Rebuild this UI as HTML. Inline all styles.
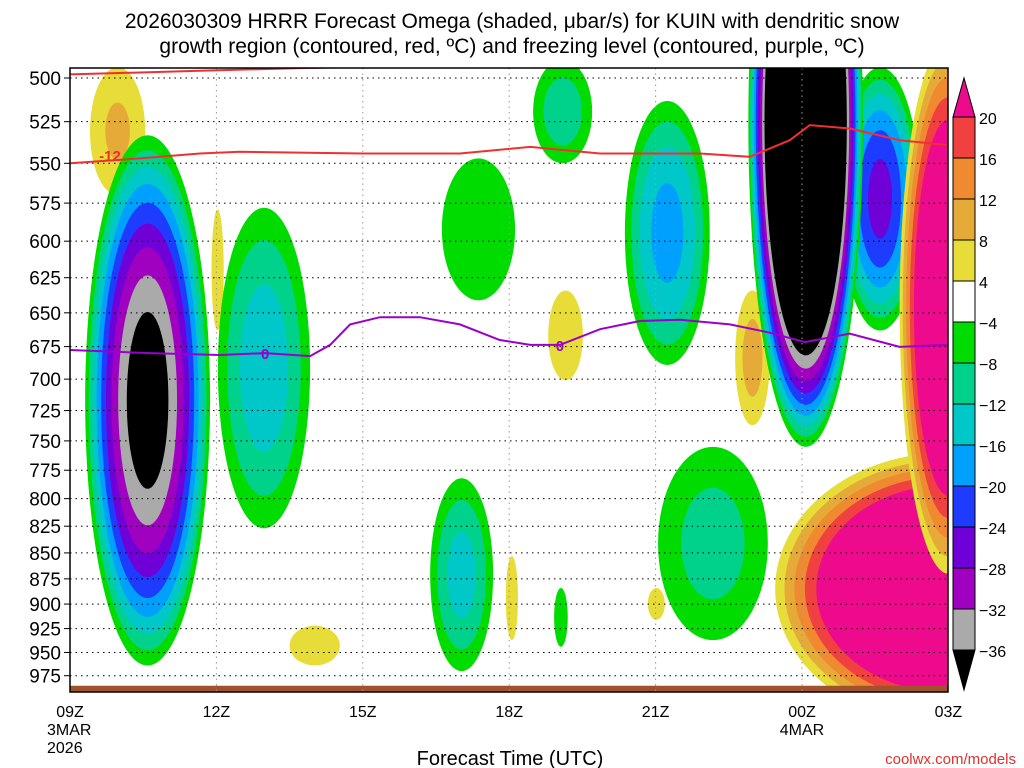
<!DOCTYPE html>
<html><head><meta charset="utf-8"><style>
body{margin:0;background:#fff;}
svg{display:block;font-family:"Liberation Sans",sans-serif;}
</style></head><body>
<svg id="chart" width="1024" height="768" viewBox="0 0 1024 768">
<text x="512" y="28" text-anchor="middle" font-size="21">2026030309 HRRR Forecast Omega (shaded, μbar/s) for KUIN with dendritic snow</text>
<text x="512" y="53" text-anchor="middle" font-size="21">growth region (contoured, red, ºC) and freezing level (contoured, purple, ºC)</text>
<defs><clipPath id="pc"><rect x="70" y="68" width="878" height="624"/></clipPath></defs>
<g id="fields" clip-path="url(#pc)"></g>
<g id="grid"></g>
<g id="lines" clip-path="url(#pc)"></g>
<rect x="70" y="68" width="878" height="624" fill="none" stroke="#000" stroke-width="1.5"/>
<g id="yaxis"></g>
<g id="xaxis"></g>
<g id="cbar"></g>
<text x="510" y="765" text-anchor="middle" font-size="20">Forecast Time (UTC)</text>
<text x="1016" y="764" text-anchor="end" font-size="15" fill="#e03030">coolwx.com/models</text>
</svg>
<script>
const pLevels=[500,525,550,575,600,625,650,675,700,725,750,775,800,825,850,875,900,925,950,975];
const tTicks=[9,12,15,18,21,24,27];
const tLabels=[["09Z","3MAR","2026"],["12Z"],["15Z"],["18Z"],["21Z"],["00Z","4MAR"],["03Z"]];
const negLevels=[-4,-8,-12,-16,-20,-24,-28,-32,-36];
const negColors=["#00dc00","#00d28c","#00c8c8","#00a0ff","#1e3cff","#7000d8","#a000c0","#aaaaaa","#000000"];
const posLevels=[4,8,12,16,20];
const posColors=["#e8dc38","#e6aa38","#f08a30","#f04040","#ee0a8c"];
const cbarLabels=["20","16","12","8","4","-4","-8","-12","-16","-20","-24","-28","-32","-36"];
// blobs: [tStart, tEnd, pTop, pBottom, peak]
const blobs=[
[9.41,10.54,494,570,9],
[11.9,12.15,579,663,6],
[13.5,14.53,922,964,6],
[9.31,11.87,533,964,-40],
[12.03,13.92,578,827,-15],
[16.62,18.12,547,641,-7],
[16.38,17.67,782,970,-14],
[18.49,19.7,490,550,-11],
[18.8,19.51,634,701,6],
[17.93,18.18,853,937,5],
[18.92,19.2,884,944,-6],
[20.84,21.19,884,916,5],
[20.37,22.11,513,689,-18],
[21.05,23.3,755,937,-10],
[22.63,23.34,634,737,10],
[24.78,26.42,494,663,-26],
[22.9,25.25,366,755,-70],
[23.45,30.5,760,1030,42],
[26.0,28.0,480,870,36]
];
const redT=[9,10.43,11.66,12.48,15,16.99,18.43,19.86,21.91,22.93,23.75,24.16,24.98,26,27];
const redP=[550,547,544,543,544,544,540,544,544,546,536,527,529,536,539];
const red2T=[9,11.66,13.7,16.8];
const red2P=[498,496,494.5,493];
const purT=[9,10.64,12.07,13,13.92,14.33,14.74,15.35,16.17,16.99,17.8,18.43,19.04,19.86,20.68,21.5,22.52,23.34,24.06,24.98,26,27];
const purP=[677.6,679.9,681.4,679.9,682.2,673.7,658.5,653.2,653.2,658.5,670,673.7,673.7,662,656,655,658.5,664.6,671.6,665.3,675.2,673.7];
const groundP=986;

(function(){
const NS="http://www.w3.org/2000/svg";
const X=t=>70+(t-9)*48.8;
const Y=p=>78+895*Math.log(p/500);
function mk(tag,attrs,parent){const e=document.createElementNS(NS,tag);for(const k in attrs)e.setAttribute(k,attrs[k]);parent.appendChild(e);return e;}
const F=document.getElementById('fields');
blobs.forEach(b=>{
  const cx=(X(b[0])+X(b[1]))/2, rx=(X(b[1])-X(b[0]))/2;
  const cy=(Y(b[2])+Y(b[3]))/2, ry=(Y(b[3])-Y(b[2]))/2;
  const peak=b[4];
  const neg=peak<0, lv=neg?negLevels:posLevels, col=neg?negColors:posColors, edge=neg?-4:4;
  lv.forEach((L,i)=>{
    if(neg? peak>=L : peak<=L) return;
    const r=Math.sqrt((L-peak)/(edge-peak));
    const e=mk('ellipse',{cx:cx,cy:cy,rx:rx*r,ry:ry*r,fill:col[i]},F);
    
    
  });
});
const g=mk('rect',{x:70,y:Y(groundP),width:878,height:20,fill:"#a0522d"},F);



const G=document.getElementById('grid'), YA=document.getElementById('yaxis'), XA=document.getElementById('xaxis');
pLevels.forEach(p=>{
  const y=Y(p);
  const l=mk('line',{x1:70,x2:948,y1:y,y2:y,stroke:"#000","stroke-dasharray":"1.5 4","stroke-width":1},G);
  
  
  const tk=mk('line',{x1:64,x2:70,y1:y,y2:y,stroke:"#000"},YA);
  
  
  const t=mk('text',{x:61,y:y+7,"text-anchor":"end","font-size":19},YA);
  t.textContent=p;
  
  
});
tTicks.forEach((tt,i)=>{
  const x=X(tt);
  if(i>0&&i<tTicks.length-1){
    const l=mk('line',{x1:x,x2:x,y1:68,y2:692,stroke:"#999","stroke-dasharray":"1.5 4"},G);
    
    
  }
  tLabels[i].forEach((s,j)=>{
    const t=mk('text',{x:x,y:717+j*18,"text-anchor":(i===0&&j>0)?"start":"middle","font-size":16},XA);
    if(i===0&&j>0)t.setAttribute('x',x-23);
    t.textContent=s;
    
    
  });
});

const Ls=document.getElementById('lines');
function line(ts,ps,color,name){
  const d=ts.map((t,i)=>(i?'L':'M')+X(t).toFixed(1)+','+Y(ps[i]).toFixed(1)).join(' ');
  const e=mk('path',{d:d,fill:"none",stroke:color,"stroke-width":2},Ls);
  
  
}
line(redT,redP,"#f03030","dgz-minus12-line");
line(red2T,red2P,"#f03030","dgz-upper-line");
line(purT,purP,"#9900cc","freezing-level-line");
function lab(t,p,s,c,name){
  const e=mk('text',{x:X(t),y:Y(p)+6,"text-anchor":"middle","font-size":15,"font-weight":"bold",fill:c},Ls);
  e.textContent=s;
  
  
}
lab(9.82,545,"-12","#f03030","dgz-line-label");
lab(13,679.9,"0","#9900cc","freezing-label-1");
lab(19.04,673.7,"0","#9900cc","freezing-label-2");

const C=document.getElementById('cbar');
const cb=[...posColors.slice(0,4).reverse(),"#ffffff",...negColors.slice(0,8)];
const cbTop=mk('polygon',{points:"953,117 975,117 964,78",fill:posColors[4],stroke:"#000"},C);


cb.forEach((c,i)=>{
  const r=mk('rect',{x:953,y:117+i*41,width:22,height:41,fill:c,stroke:"#000","stroke-width":1},C);
  
  
});
const cbBot=mk('polygon',{points:"953,650 975,650 964,690",fill:"#000",stroke:"#000"},C);


cbarLabels.forEach((s,i)=>{
  const t=mk('text',{x:979,y:124+i*41,"font-size":16},C);
  t.textContent=s.replace('-','−');
  
  
});
})();
</script>
</body></html>
